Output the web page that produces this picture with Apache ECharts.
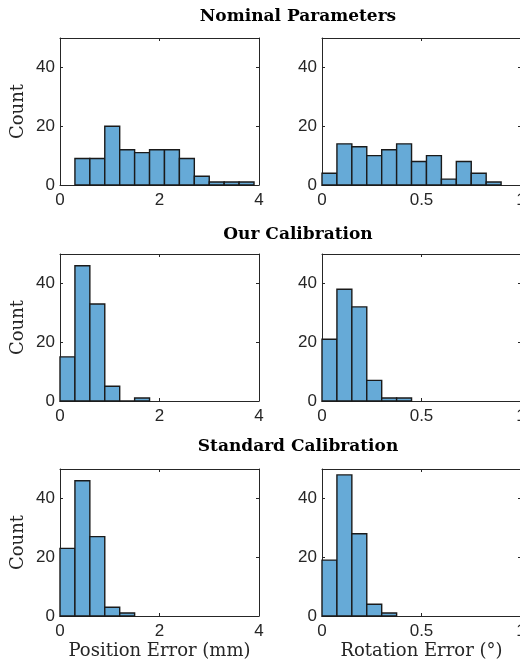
<!DOCTYPE html>
<html>
<head>
<meta charset="utf-8">
<script src="https://cdn.jsdelivr.net/npm/echarts@6/dist/echarts.min.js"></script>
<style>
  html, body { margin: 0; padding: 0; background: #fff; }
  #chart { width: 520px; height: 666px; }
</style>
</head>
<body>
<div id="chart"></div>
<script>
// row titles
const rowTitles = ['Nominal Parameters', 'Our Calibration', 'Standard Calibration']

// histogram bin edges and counts
const nominalPosEdges = [0.3, 0.6, 0.9, 1.2, 1.5, 1.8, 2.1, 2.4, 2.7, 3.0, 3.3, 3.6, 3.9]
const nominalPosCounts = [9, 9, 20, 12, 11, 12, 12, 9, 3, 1, 1, 1]
const nominalRotEdges = [0, 0.075, 0.15, 0.225, 0.3, 0.375, 0.45, 0.525, 0.6, 0.675, 0.75, 0.825, 0.9]
const nominalRotCounts = [4, 14, 13, 10, 12, 14, 8, 10, 2, 8, 4, 1]

const ourPosEdges = [0, 0.3, 0.6, 0.9, 1.2, 1.5, 1.8]
const ourPosCounts = [15, 46, 33, 5, 0, 1]
const ourRotEdges = [0, 0.075, 0.15, 0.225, 0.3, 0.375, 0.45]
const ourRotCounts = [21, 38, 32, 7, 1, 1]

const stdPosEdges = [0, 0.3, 0.6, 0.9, 1.2, 1.5]
const stdPosCounts = [23, 46, 27, 3, 1]
const stdRotEdges = [0, 0.075, 0.15, 0.225, 0.3, 0.375]
const stdRotCounts = [19, 48, 28, 4, 1]

// axis ranges
const posAxis = { min: 0, max: 4, interval: 2 }
const rotAxis = { min: 0, max: 1, interval: 0.5 }
const countAxis = { min: 0, max: 50, interval: 20 }

const panels = [
    { edges: nominalPosEdges, counts: nominalPosCounts, x: posAxis },
    { edges: nominalRotEdges, counts: nominalRotCounts, x: rotAxis },
    { edges: ourPosEdges, counts: ourPosCounts, x: posAxis },
    { edges: ourRotEdges, counts: ourRotCounts, x: rotAxis },
    { edges: stdPosEdges, counts: stdPosCounts, x: posAxis },
    { edges: stdRotEdges, counts: stdRotCounts, x: rotAxis }
]

const colLeft = [60, 322]
const rowTop = [38, 254, 469]
const titleTop = [3, 221, 433]
const plotW = 199
const plotH = 147

const axisColor = '#262626'
const serif = 'DejaVu Serif'
const sans = 'Liberation Sans'

const chart = echarts.init(document.getElementById('chart'), null, { renderer: 'canvas' })

const grids = [], xAxes = [], yAxes = [], series = []

panels.forEach((p, i) => {
    const row = Math.floor(i / 2), col = i % 2
    grids.push({
        left: colLeft[col], top: rowTop[row], width: plotW, height: plotH,
        outerBoundsMode: 'none', containLabel: false
    })

    const lineStyle = { color: axisColor, width: 1 }
    const tick = { show: true, inside: true, length: 3, lineStyle: lineStyle }

    // bottom x axis
    xAxes.push({
        gridIndex: i, type: 'value', min: p.x.min, max: p.x.max, interval: p.x.interval,
        axisLine: { show: true, onZero: false, lineStyle: lineStyle },
        axisTick: tick, splitLine: { show: false },
        axisLabel: { color: axisColor, fontFamily: sans, fontSize: 17, margin: 7, showMaxLabel: true, hideOverlap: false },
        name: row === 2 ? (col === 0 ? 'Position Error (mm)' : 'Rotation Error (°)') : '',
        nameLocation: 'middle', nameGap: 26,
        nameTextStyle: { color: axisColor, fontFamily: serif, fontSize: 18 }
    })
    // top mirror x axis
    xAxes.push({
        gridIndex: i, type: 'value', position: 'top', min: p.x.min, max: p.x.max, interval: p.x.interval,
        axisLine: { show: true, onZero: false, lineStyle: lineStyle },
        axisTick: tick, splitLine: { show: false }, axisLabel: { show: false }
    })
    // left y axis
    yAxes.push({
        gridIndex: i, type: 'value', min: countAxis.min, max: countAxis.max, interval: countAxis.interval,
        axisLine: { show: true, onZero: false, lineStyle: lineStyle },
        axisTick: tick, splitLine: { show: false },
        axisLabel: { color: axisColor, fontFamily: sans, fontSize: 17, margin: 5, showMaxLabel: false },
        name: col === 0 ? 'Count' : '', nameLocation: 'middle', nameGap: 33,
        nameTextStyle: { color: axisColor, fontFamily: serif, fontSize: 18 }
    })
    // right mirror y axis
    yAxes.push({
        gridIndex: i, type: 'value', position: 'right', min: countAxis.min, max: countAxis.max, interval: countAxis.interval,
        axisLine: { show: true, onZero: false, lineStyle: lineStyle },
        axisTick: tick, splitLine: { show: false }, axisLabel: { show: false }
    })

    const data = p.counts.map((c, k) => [p.edges[k], p.edges[k + 1], c])
    series.push({
        type: 'custom',
        xAxisIndex: i * 2, yAxisIndex: i * 2,
        encode: { x: [0, 1], y: 2 },
        data: data,
        renderItem: (params, api) => {
            const p0 = api.coord([api.value(0), api.value(2)])
            const p1 = api.coord([api.value(1), 0])
            return {
                type: 'rect',
                shape: { x: p0[0], y: p0[1], width: p1[0] - p0[0], height: p1[1] - p0[1] },
                style: { fill: '#66aad7', stroke: '#1a1a1a', lineWidth: 1.4 }
            }
        }
    })
})

const option = {
    animation: false,
    backgroundColor: '#fff',
    title: rowTitles.map((t, r) => ({
        text: t, left: 293, textAlign: 'center', top: titleTop[r],
        textStyle: { fontFamily: serif, fontWeight: 'bold', fontSize: 17, color: '#000' }
    })),
    grid: grids,
    xAxis: xAxes,
    yAxis: yAxes,
    series: series
}

chart.setOption(option)
</script>
</body>
</html>
